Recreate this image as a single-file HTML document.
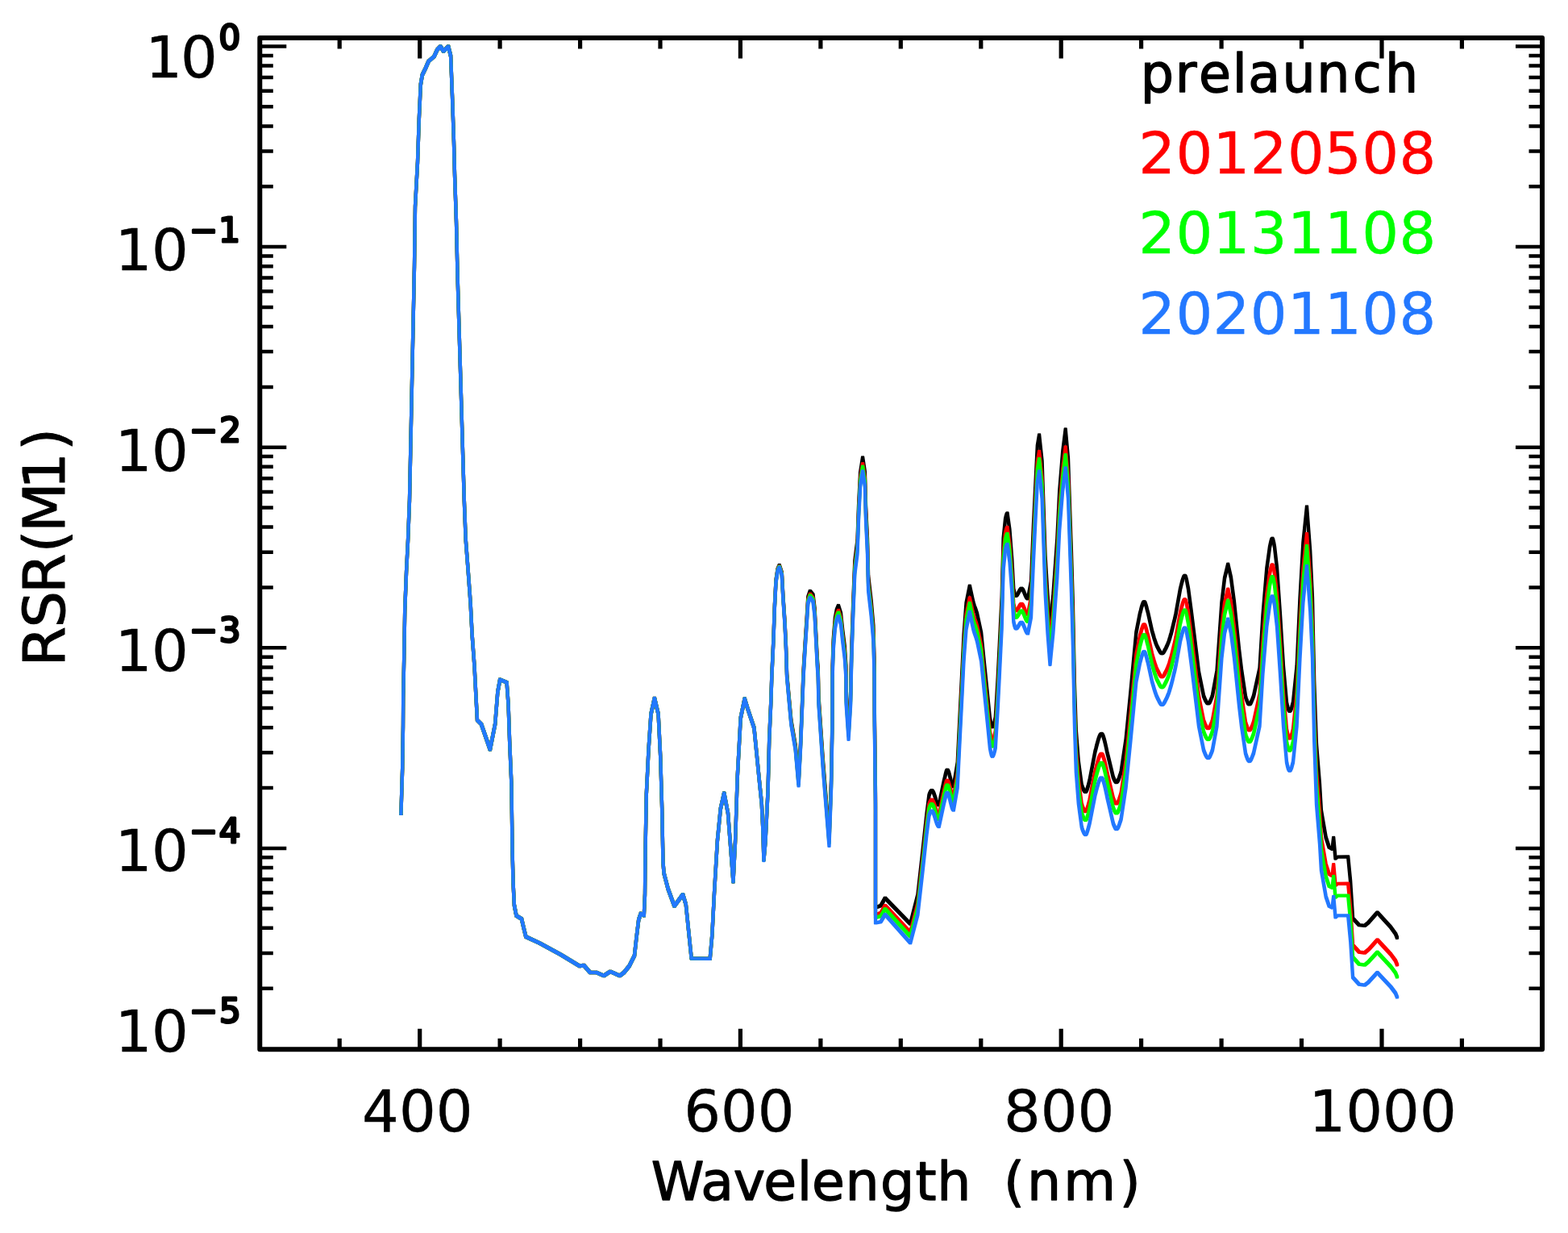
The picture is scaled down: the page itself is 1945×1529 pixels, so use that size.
<!DOCTYPE html>
<html lang="en"><head><meta charset="utf-8"><title>RSR(M1)</title>
<style>html,body{margin:0;padding:0;background:#fff}svg{display:block}text{font-family:"DejaVu Sans","Liberation Sans",sans-serif}</style></head><body>
<svg width="1945" height="1529" viewBox="0 0 1945 1529">
<rect width="1945" height="1529" fill="#fff"/>
<filter id="sq" filterUnits="userSpaceOnUse" x="480" y="40" width="1270" height="1220"><feMorphology operator="dilate" radius="1"/></filter>
<g fill="none" stroke-width="2.3" stroke-linejoin="round" stroke-linecap="butt" stroke-miterlimit="4">
<path stroke="#000000" filter="url(#sq)" d="M497.4 1010.0 L499.2 952.0 L500.0 900.0 L500.2 865.0 L501.2 816.0 L502.2 757.0 L504.1 708.0 L506.1 669.0 L508.0 620.0 L514.0 330.0 L515.0 256.0 L518.0 201.0 L519.8 148.0 L521.8 105.0 L523.8 93.0 L527.7 85.0 L531.6 76.0 L538.5 70.0 L542.4 61.6 L546.3 57.5 L550.2 63.5 L556.1 57.5 L559.1 69.4 L561.0 118.5 L563.0 177.0 L564.0 216.0 L566.0 275.0 L567.5 340.0 L575.8 620.0 L577.7 669.0 L580.7 708.0 L583.6 747.5 L585.6 787.0 L588.5 826.0 L590.5 865.0 L592.0 893.0 L597.0 898.0 L607.9 929.5 L614.2 897.7 L617.3 858.5 L620.2 842.7 L628.6 846.3 L630.6 874.0 L632.2 921.0 L634.4 972.0 L635.6 1057.0 L636.6 1096.0 L637.9 1122.4 L640.5 1135.4 L647.0 1139.4 L649.7 1151.0 L652.3 1161.6 L669.3 1169.5 L695.5 1183.8 L719.0 1198.0 L724.2 1197.0 L732.0 1206.0 L740.0 1206.0 L749.0 1210.0 L757.0 1204.8 L768.7 1210.0 L774.0 1206.0 L780.5 1198.0 L787.0 1185.0 L789.6 1161.6 L792.2 1140.7 L794.9 1132.8 L798.8 1135.4 L800.0 1109.0 L800.5 1057.0 L801.8 985.0 L804.5 930.0 L807.5 885.4 L811.9 865.8 L816.6 885.4 L819.2 937.7 L821.2 1003.5 L822.5 1070.0 L823.6 1083.0 L828.6 1102.0 L836.5 1123.6 L847.0 1109.2 L850.8 1121.5 L854.8 1160.5 L857.7 1188.5 L880.7 1188.9 L883.3 1160.0 L886.0 1107.8 L889.9 1042.4 L893.8 1003.0 L898.2 983.5 L903.0 1008.4 L905.6 1042.4 L909.5 1093.4 L912.1 1042.4 L914.7 963.9 L918.7 890.6 L923.7 866.5 L927.5 879.0 L935.4 902.4 L938.5 933.4 L941.6 964.8 L944.8 996.0 L946.3 1026.9 L947.4 1065.8 L949.5 1042.6 L952.6 979.4 L954.2 916.8 L956.3 869.6 L957.3 838.1 L959.4 793.0 L960.9 750.9 L962.5 719.7 L964.6 705.6 L966.7 700.9 L969.8 710.0 L971.4 739.5 L973.5 770.4 L975.0 801.8 L976.1 836.1 L981.4 893.8 L986.7 924.5 L990.6 968.4 L993.2 918.3 L995.8 852.5 L996.5 833.2 L998.6 798.5 L1000.7 766.6 L1002.3 740.4 L1004.9 733.0 L1008.5 737.5 L1010.6 754.9 L1012.2 786.0 L1013.8 817.2 L1014.8 830.6 L1015.4 862.8 L1020.7 940.6 L1028.5 1037.5 L1031.1 965.3 L1032.5 886.6 L1032.6 828.1 L1033.7 793.5 L1035.8 767.0 L1037.8 756.3 L1040.0 751.0 L1043.0 760.6 L1045.2 781.3 L1047.8 802.0 L1049.4 825.8 L1049.6 858.1 L1052.6 902.2 L1055.2 857.4 L1055.8 825.0 L1056.4 800.9 L1058.2 748.4 L1060.3 695.8 L1063.5 670.5 L1065.0 628.4 L1067.1 586.4 L1070.1 567.5 L1072.9 585.6 L1074.0 627.2 L1076.0 668.9 L1077.1 714.5 L1080.7 745.4 L1083.4 776.3 L1084.6 821.2 L1084.8 879.6 L1086.0 984.0 L1086.0 1125.4 L1092.6 1123.1 L1097.9 1113.6 L1129.2 1145.7 L1138.4 1109.8 L1144.5 1055.4 L1149.4 1010.0 L1152.4 986.3 L1153.2 983.9 L1154.1 982.0 L1154.9 980.7 L1155.7 980.1 L1156.5 980.5 L1157.3 981.6 L1158.2 983.3 L1159.0 985.5 L1159.8 987.9 L1160.6 990.4 L1161.4 992.9 L1162.2 995.0 L1163.1 996.8 L1163.9 997.9 L1164.7 998.2 L1171.0 968.1 L1172.0 963.9 L1173.0 959.6 L1173.9 956.2 L1174.9 954.7 L1175.8 955.3 L1176.7 957.2 L1177.5 959.9 L1178.4 963.2 L1179.3 966.7 L1180.2 970.0 L1181.0 972.7 L1181.9 974.6 L1182.8 975.2 L1187.7 946.0 L1190.6 886.7 L1193.6 827.5 L1195.5 787.9 L1198.5 748.3 L1202.8 726.6 L1207.3 746.9 L1208.1 749.7 L1208.9 752.1 L1209.8 754.4 L1210.6 756.7 L1211.4 759.1 L1212.2 761.9 L1217.1 784.7 L1221.0 823.4 L1225.0 862.0 L1227.9 890.8 L1228.9 895.9 L1229.9 899.9 L1230.9 901.4 L1231.9 900.5 L1232.8 898.1 L1233.8 894.6 L1234.8 890.0 L1237.7 840.7 L1239.7 801.4 L1241.6 761.9 L1242.6 742.2 L1244.6 668.0 L1247.0 644.3 L1247.8 640.5 L1248.7 637.7 L1249.5 636.5 L1252.4 656.9 L1255.4 695.7 L1257.3 730.6 L1258.3 735.2 L1259.3 738.0 L1260.3 738.9 L1261.4 738.1 L1262.5 736.4 L1263.7 734.3 L1264.8 732.2 L1265.9 730.5 L1267.0 729.7 L1267.8 730.0 L1268.6 730.9 L1269.4 732.4 L1270.2 734.1 L1271.0 736.1 L1271.8 738.0 L1272.6 739.8 L1273.4 741.2 L1274.2 742.1 L1275.0 742.4 L1279.0 721.4 L1281.9 652.0 L1284.8 592.9 L1286.8 553.3 L1289.1 539.5 L1292.6 572.4 L1294.6 631.1 L1296.6 689.7 L1299.5 738.5 L1302.5 777.8 L1306.4 737.9 L1311.3 668.8 L1314.2 609.7 L1318.2 560.3 L1321.7 532.5 L1325.0 569.1 L1327.0 627.6 L1329.0 685.9 L1330.9 750.1 L1332.9 847.4 L1334.8 905.9 L1337.8 944.5 L1341.7 973.1 L1342.5 975.5 L1343.3 977.6 L1344.2 979.5 L1345.0 980.8 L1345.8 981.7 L1346.6 982.0 L1347.4 981.3 L1348.2 979.6 L1349.0 977.1 L1349.9 974.1 L1350.7 971.0 L1351.5 967.9 L1358.4 932.1 L1359.3 928.8 L1360.1 925.4 L1361.0 922.1 L1361.9 918.9 L1362.7 916.1 L1363.6 913.6 L1364.5 911.7 L1365.3 910.4 L1366.2 909.9 L1367.1 910.3 L1368.0 911.7 L1368.8 913.9 L1369.7 916.9 L1370.6 920.4 L1371.5 924.2 L1372.4 928.2 L1373.2 932.2 L1374.1 936.0 L1375.0 939.5 L1380.9 963.9 L1381.7 965.7 L1382.5 967.4 L1383.3 968.8 L1384.1 969.8 L1384.9 970.1 L1385.7 969.6 L1386.6 968.5 L1387.4 966.8 L1388.2 964.7 L1389.0 962.2 L1389.9 959.5 L1390.7 956.7 L1396.6 916.8 L1402.5 857.3 L1409.4 784.2 L1414.0 760.7 L1414.9 757.5 L1415.7 754.2 L1416.6 751.2 L1417.5 748.6 L1418.3 746.9 L1419.2 746.2 L1420.2 747.0 L1421.1 749.3 L1422.1 752.5 L1423.0 756.2 L1424.0 759.8 L1429.0 782.3 L1429.9 785.4 L1430.8 788.4 L1431.6 791.3 L1432.5 794.0 L1433.4 796.6 L1434.2 798.9 L1435.1 800.9 L1436.0 802.7 L1436.9 804.5 L1437.8 806.2 L1438.7 807.8 L1439.6 809.1 L1440.5 810.0 L1441.4 810.3 L1442.3 809.9 L1443.3 809.0 L1444.2 807.5 L1445.1 805.8 L1446.1 804.0 L1447.0 802.1 L1447.8 800.3 L1448.6 798.4 L1449.5 796.1 L1450.3 793.7 L1451.1 791.1 L1451.9 788.2 L1452.8 785.3 L1453.6 782.1 L1454.4 778.9 L1455.2 775.5 L1456.0 772.1 L1456.9 768.5 L1457.7 764.9 L1458.5 761.3 L1464.0 730.5 L1464.8 727.3 L1465.6 724.0 L1466.4 720.9 L1467.3 718.1 L1468.1 715.9 L1468.9 714.4 L1469.7 713.8 L1470.6 714.8 L1471.4 717.3 L1472.3 721.1 L1473.1 725.4 L1474.0 729.9 L1478.0 760.1 L1484.0 808.6 L1487.0 833.6 L1493.0 863.0 L1493.8 865.0 L1494.6 866.9 L1495.4 868.7 L1496.3 870.2 L1497.1 871.4 L1497.9 872.2 L1498.7 872.4 L1499.6 872.0 L1500.5 870.9 L1501.3 869.2 L1502.2 867.1 L1503.1 864.8 L1504.0 862.3 L1509.5 832.2 L1515.4 747.9 L1519.0 717.1 L1523.2 699.7 L1527.0 716.6 L1531.0 747.0 L1537.0 805.4 L1540.0 830.4 L1545.0 863.9 L1545.9 866.8 L1546.9 869.4 L1547.8 871.5 L1548.8 873.0 L1549.7 873.4 L1550.6 873.0 L1551.5 871.8 L1552.3 870.0 L1553.2 867.9 L1554.1 865.6 L1555.0 863.2 L1562.5 829.0 L1566.4 764.2 L1571.3 705.2 L1575.0 678.5 L1575.8 674.8 L1576.6 671.3 L1577.4 668.7 L1578.2 667.7 L1579.1 669.2 L1580.1 673.2 L1581.0 678.1 L1584.0 704.3 L1588.0 762.7 L1592.0 826.9 L1596.0 871.4 L1596.9 875.4 L1597.8 878.8 L1598.8 881.0 L1599.7 881.8 L1600.6 881.2 L1601.4 879.7 L1602.3 877.3 L1603.1 874.4 L1604.0 871.1 L1608.6 826.2 L1612.5 742.0 L1616.4 673.3 L1621.0 628.4 L1625.2 683.5 L1628.0 742.4 L1630.2 845.1 L1633.0 923.7 L1637.0 972.8 L1638.9 1005.3 L1644.7 1038.7 L1648.7 1050.6 L1652.6 1052.7 L1654.2 1039.0 L1656.5 1064.5 L1658.5 1062.7 L1672.2 1062.5 L1675.2 1093.7 L1678.1 1138.7 L1686.0 1147.2 L1692.8 1147.9 L1697.7 1143.8 L1708.5 1131.5 L1725.2 1149.8 L1731.0 1157.8 L1733.4 1163.8"/>
<path stroke="#ff0000" filter="url(#sq)" d="M497.4 1010.0 L499.2 952.0 L500.0 900.0 L500.2 865.0 L501.2 816.0 L502.2 757.0 L504.1 708.0 L506.1 669.0 L508.0 620.0 L514.0 330.0 L515.0 256.0 L518.0 201.0 L519.8 148.0 L521.8 105.0 L523.8 93.0 L527.7 85.0 L531.6 76.0 L538.5 70.0 L542.4 61.6 L546.3 57.5 L550.2 63.5 L556.1 57.5 L559.1 69.4 L561.0 118.5 L563.0 177.0 L564.0 216.0 L566.0 275.0 L567.5 340.0 L575.8 620.0 L577.7 669.0 L580.7 708.0 L583.6 747.5 L585.6 787.0 L588.5 826.0 L590.5 865.0 L592.0 893.0 L597.0 898.0 L607.9 929.5 L614.2 897.7 L617.3 858.5 L620.2 842.7 L628.6 846.3 L630.6 874.0 L632.2 921.0 L634.4 972.0 L635.6 1057.0 L636.6 1096.0 L637.9 1122.4 L640.5 1135.4 L647.0 1139.4 L649.7 1151.0 L652.3 1161.6 L669.3 1169.5 L695.5 1183.8 L719.0 1198.0 L724.2 1197.0 L732.0 1206.0 L740.0 1206.0 L749.0 1210.0 L757.0 1204.8 L768.7 1210.0 L774.0 1206.0 L780.5 1198.0 L787.0 1185.0 L789.6 1161.6 L792.2 1140.7 L794.9 1132.8 L798.8 1135.4 L800.0 1109.0 L800.5 1057.0 L801.8 985.0 L804.5 930.0 L807.5 885.4 L811.9 865.8 L816.6 885.4 L819.2 937.7 L821.2 1003.5 L822.5 1070.0 L823.6 1083.0 L828.6 1102.0 L836.5 1123.6 L847.0 1109.2 L850.8 1121.5 L854.8 1160.5 L857.7 1188.5 L880.7 1188.9 L883.3 1160.0 L886.0 1107.8 L889.9 1042.4 L893.8 1003.0 L898.2 983.5 L903.0 1008.4 L905.6 1042.4 L909.5 1093.4 L912.1 1042.4 L914.7 963.9 L918.7 890.6 L923.7 866.5 L927.5 879.0 L935.4 902.6 L938.5 933.7 L941.6 965.2 L944.8 996.4 L946.3 1027.4 L947.4 1066.3 L949.5 1043.3 L952.6 980.1 L954.2 917.6 L956.3 870.4 L957.3 839.0 L959.4 793.9 L960.9 751.8 L962.5 720.8 L964.6 706.7 L966.7 702.1 L969.8 711.3 L971.4 741.0 L973.5 772.1 L975.0 803.5 L976.1 837.9 L981.4 896.0 L986.7 926.9 L990.6 971.1 L993.2 921.1 L995.8 855.5 L996.5 836.3 L998.6 801.7 L1000.7 770.0 L1002.3 743.8 L1004.9 736.6 L1008.5 741.4 L1010.6 758.9 L1012.2 790.1 L1013.8 821.5 L1014.8 834.9 L1015.4 867.1 L1020.7 945.2 L1028.5 1042.7 L1031.1 970.6 L1032.5 892.0 L1032.6 833.5 L1033.7 799.0 L1035.8 772.6 L1037.8 762.1 L1040.0 756.9 L1043.0 766.7 L1045.2 787.6 L1047.8 808.4 L1049.4 832.3 L1049.6 864.6 L1052.6 908.8 L1055.2 864.2 L1055.8 831.8 L1056.4 807.8 L1058.2 755.4 L1060.3 702.9 L1063.5 677.8 L1065.0 635.8 L1067.1 593.8 L1070.1 575.1 L1072.9 593.4 L1074.0 635.1 L1076.0 676.9 L1077.1 722.6 L1080.7 753.7 L1083.4 784.8 L1084.6 829.7 L1084.8 888.2 L1086.0 992.6 L1086.0 1134.0 L1092.6 1132.2 L1097.9 1122.9 L1129.2 1156.4 L1138.4 1120.8 L1144.5 1066.6 L1149.4 1021.4 L1152.4 997.7 L1153.2 995.4 L1154.1 993.5 L1154.9 992.2 L1155.7 991.7 L1156.5 992.1 L1157.3 993.3 L1158.2 995.1 L1159.0 997.3 L1159.8 999.8 L1160.6 1002.4 L1161.4 1004.8 L1162.2 1007.1 L1163.1 1008.8 L1163.9 1010.0 L1164.7 1010.4 L1171.0 980.7 L1172.0 976.5 L1173.0 972.3 L1173.9 969.0 L1174.9 967.6 L1175.8 968.3 L1176.7 970.2 L1177.5 973.0 L1178.4 976.3 L1179.3 979.8 L1180.2 983.2 L1181.0 986.0 L1181.9 987.9 L1182.8 988.6 L1187.7 959.8 L1190.6 900.6 L1193.6 841.6 L1195.5 802.1 L1198.5 762.7 L1202.8 741.4 L1207.3 762.0 L1208.1 764.8 L1208.9 767.3 L1209.8 769.6 L1210.6 771.9 L1211.4 774.4 L1212.2 777.3 L1217.1 800.4 L1221.0 839.4 L1225.0 878.2 L1227.9 907.3 L1228.9 912.4 L1229.9 916.5 L1230.9 918.1 L1231.9 917.2 L1232.8 914.9 L1233.8 911.4 L1234.8 906.8 L1237.7 857.7 L1239.7 818.5 L1241.6 779.1 L1242.6 759.4 L1244.6 685.3 L1247.0 661.7 L1247.8 658.0 L1248.7 655.2 L1249.5 654.0 L1252.4 674.7 L1255.4 713.8 L1257.3 748.9 L1258.3 753.5 L1259.3 756.4 L1260.3 757.4 L1261.4 756.7 L1262.5 755.1 L1263.7 753.1 L1264.8 751.1 L1265.9 749.5 L1267.0 748.8 L1267.8 749.1 L1268.6 750.1 L1269.4 751.6 L1270.2 753.4 L1271.0 755.4 L1271.8 757.4 L1272.6 759.2 L1273.4 760.7 L1274.2 761.7 L1275.0 762.0 L1279.0 741.2 L1281.9 672.0 L1284.8 613.1 L1286.8 573.6 L1289.1 560.0 L1292.6 593.0 L1294.6 651.8 L1296.6 710.5 L1299.5 759.5 L1302.5 798.8 L1306.4 759.1 L1311.3 690.2 L1314.2 631.2 L1318.2 582.0 L1321.7 554.4 L1325.0 591.2 L1327.0 649.9 L1329.0 708.4 L1330.9 772.8 L1332.9 870.3 L1334.8 929.0 L1337.8 967.8 L1341.7 996.8 L1342.5 999.3 L1343.3 1001.5 L1344.2 1003.4 L1345.0 1004.9 L1345.8 1005.8 L1346.6 1006.1 L1347.4 1005.4 L1348.2 1003.8 L1349.0 1001.3 L1349.9 998.4 L1350.7 995.3 L1351.5 992.2 L1358.4 956.6 L1359.3 953.4 L1360.1 950.0 L1361.0 946.7 L1361.9 943.6 L1362.7 940.7 L1363.6 938.3 L1364.5 936.4 L1365.3 935.2 L1366.2 934.7 L1367.1 935.2 L1368.0 936.6 L1368.8 939.0 L1369.7 942.0 L1370.6 945.6 L1371.5 949.5 L1372.4 953.6 L1373.2 957.6 L1374.1 961.6 L1375.0 965.1 L1380.9 990.0 L1381.7 991.9 L1382.5 993.7 L1383.3 995.2 L1384.1 996.2 L1384.9 996.5 L1385.7 996.1 L1386.6 995.0 L1387.4 993.4 L1388.2 991.3 L1389.0 988.8 L1389.9 986.2 L1390.7 983.4 L1396.6 943.8 L1402.5 884.6 L1409.4 811.9 L1414.0 788.6 L1414.9 785.4 L1415.7 782.2 L1416.6 779.2 L1417.5 776.7 L1418.3 775.0 L1419.2 774.3 L1420.2 775.2 L1421.1 777.5 L1422.1 780.8 L1423.0 784.5 L1424.0 788.1 L1429.0 810.8 L1429.9 814.0 L1430.8 817.0 L1431.6 819.9 L1432.5 822.7 L1433.4 825.3 L1434.2 827.6 L1435.1 829.7 L1436.0 831.5 L1436.9 833.3 L1437.8 835.1 L1438.7 836.7 L1439.6 838.1 L1440.5 839.0 L1441.4 839.3 L1442.3 838.9 L1443.3 838.0 L1444.2 836.6 L1445.1 834.9 L1446.1 833.0 L1447.0 831.2 L1447.8 829.4 L1448.6 827.5 L1449.5 825.2 L1450.3 822.8 L1451.1 820.2 L1451.9 817.4 L1452.8 814.4 L1453.6 811.3 L1454.4 808.1 L1455.2 804.7 L1456.0 801.3 L1456.9 797.8 L1457.7 794.2 L1458.5 790.6 L1464.0 759.9 L1464.8 756.6 L1465.6 753.4 L1466.4 750.3 L1467.3 747.5 L1468.1 745.3 L1468.9 743.8 L1469.7 743.2 L1470.6 744.2 L1471.4 746.8 L1472.3 750.6 L1473.1 755.0 L1474.0 759.5 L1478.0 789.9 L1484.0 838.7 L1487.0 863.8 L1493.0 893.5 L1493.8 895.5 L1494.6 897.5 L1495.4 899.3 L1496.3 900.9 L1497.1 902.1 L1497.9 902.9 L1498.7 903.2 L1499.6 902.8 L1500.5 901.6 L1501.3 900.0 L1502.2 897.9 L1503.1 895.6 L1504.0 893.1 L1509.5 863.1 L1515.4 778.8 L1519.0 748.0 L1523.2 730.6 L1527.0 747.7 L1531.0 778.3 L1537.0 836.9 L1540.0 862.0 L1545.0 895.8 L1545.9 898.7 L1546.9 901.4 L1547.8 903.6 L1548.8 905.0 L1549.7 905.5 L1550.6 905.1 L1551.5 903.9 L1552.3 902.2 L1553.2 900.1 L1554.1 897.8 L1555.0 895.4 L1562.5 861.3 L1566.4 796.6 L1571.3 737.7 L1575.0 711.0 L1575.8 707.3 L1576.6 703.8 L1577.4 701.3 L1578.2 700.3 L1579.1 701.9 L1580.1 705.9 L1581.0 710.8 L1584.0 737.2 L1588.0 795.8 L1592.0 860.1 L1596.0 904.9 L1596.9 908.9 L1597.8 912.3 L1598.8 914.7 L1599.7 915.5 L1600.6 914.9 L1601.4 913.3 L1602.3 911.0 L1603.1 908.0 L1604.0 904.7 L1608.6 859.8 L1612.5 775.6 L1616.4 706.8 L1621.0 661.9 L1625.2 716.9 L1628.0 775.8 L1630.2 878.5 L1633.0 957.0 L1637.0 1006.1 L1638.9 1038.6 L1644.7 1072.0 L1648.7 1083.8 L1652.6 1085.9 L1654.2 1072.1 L1656.5 1097.6 L1658.5 1095.8 L1672.2 1095.7 L1675.2 1127.0 L1678.1 1172.0 L1686.0 1180.6 L1692.8 1181.5 L1697.7 1177.4 L1708.5 1165.4 L1725.2 1183.4 L1731.0 1191.3 L1733.4 1197.3"/>
<path stroke="#00ff00" filter="url(#sq)" d="M497.4 1010.0 L499.2 952.0 L500.0 900.0 L500.2 865.0 L501.2 816.0 L502.2 757.0 L504.1 708.0 L506.1 669.0 L508.0 620.0 L514.0 330.0 L515.0 256.0 L518.0 201.0 L519.8 148.0 L521.8 105.0 L523.8 93.0 L527.7 85.0 L531.6 76.0 L538.5 70.0 L542.4 61.6 L546.3 57.5 L550.2 63.5 L556.1 57.5 L559.1 69.4 L561.0 118.5 L563.0 177.0 L564.0 216.0 L566.0 275.0 L567.5 340.0 L575.8 620.0 L577.7 669.0 L580.7 708.0 L583.6 747.5 L585.6 787.0 L588.5 826.0 L590.5 865.0 L592.0 893.0 L597.0 898.0 L607.9 929.5 L614.2 897.7 L617.3 858.5 L620.2 842.7 L628.6 846.3 L630.6 874.0 L632.2 921.0 L634.4 972.0 L635.6 1057.0 L636.6 1096.0 L637.9 1122.4 L640.5 1135.4 L647.0 1139.4 L649.7 1151.0 L652.3 1161.6 L669.3 1169.5 L695.5 1183.8 L719.0 1198.0 L724.2 1197.0 L732.0 1206.0 L740.0 1206.0 L749.0 1210.0 L757.0 1204.8 L768.7 1210.0 L774.0 1206.0 L780.5 1198.0 L787.0 1185.0 L789.6 1161.6 L792.2 1140.7 L794.9 1132.8 L798.8 1135.4 L800.0 1109.0 L800.5 1057.0 L801.8 985.0 L804.5 930.0 L807.5 885.4 L811.9 865.8 L816.6 885.4 L819.2 937.7 L821.2 1003.5 L822.5 1070.0 L823.6 1083.0 L828.6 1102.0 L836.5 1123.6 L847.0 1109.2 L850.8 1121.5 L854.8 1160.5 L857.7 1188.5 L880.7 1188.9 L883.3 1160.0 L886.0 1107.8 L889.9 1042.4 L893.8 1003.0 L898.2 983.5 L903.0 1008.4 L905.6 1042.4 L909.5 1093.4 L912.1 1042.4 L914.7 963.9 L918.7 890.6 L923.7 866.5 L927.5 879.0 L935.4 902.7 L938.5 933.8 L941.6 965.3 L944.8 996.7 L946.3 1027.6 L947.4 1066.6 L949.5 1043.5 L952.6 980.5 L954.2 917.9 L956.3 870.8 L957.3 839.4 L959.4 794.3 L960.9 752.3 L962.5 721.2 L964.6 707.2 L966.7 702.6 L969.8 712.0 L971.4 741.7 L973.5 772.8 L975.0 804.3 L976.1 838.7 L981.4 896.9 L986.7 928.1 L990.6 972.4 L993.2 922.4 L995.8 856.9 L996.5 837.7 L998.6 803.2 L1000.7 771.5 L1002.3 745.4 L1004.9 738.3 L1008.5 743.1 L1010.6 760.7 L1012.2 791.9 L1013.8 823.4 L1014.8 836.8 L1015.4 869.1 L1020.7 947.3 L1028.5 1045.0 L1031.1 973.0 L1032.5 894.4 L1032.6 835.9 L1033.7 801.5 L1035.8 775.2 L1037.8 764.7 L1040.0 759.6 L1043.0 769.5 L1045.2 790.4 L1047.8 811.2 L1049.4 835.2 L1049.6 867.5 L1052.6 911.8 L1055.2 867.2 L1055.8 834.9 L1056.4 810.9 L1058.2 758.5 L1060.3 706.1 L1063.5 681.1 L1065.0 639.1 L1067.1 597.2 L1070.1 578.6 L1072.9 596.9 L1074.0 638.7 L1076.0 680.5 L1077.1 726.3 L1080.7 757.5 L1083.4 788.7 L1084.6 833.6 L1084.8 892.1 L1086.0 996.5 L1086.0 1137.9 L1092.6 1136.2 L1097.9 1127.1 L1129.2 1161.2 L1138.4 1125.8 L1144.5 1071.6 L1149.4 1026.5 L1152.4 1002.9 L1153.2 1000.6 L1154.1 998.7 L1154.9 997.4 L1155.7 996.9 L1156.5 997.4 L1157.3 998.6 L1158.2 1000.4 L1159.0 1002.6 L1159.8 1005.1 L1160.6 1007.7 L1161.4 1010.2 L1162.2 1012.5 L1163.1 1014.3 L1163.9 1015.5 L1164.7 1015.9 L1171.0 986.4 L1172.0 982.3 L1173.0 978.0 L1173.9 974.7 L1174.9 973.4 L1175.8 974.1 L1176.7 976.0 L1177.5 978.9 L1178.4 982.2 L1179.3 985.8 L1180.2 989.1 L1181.0 992.0 L1181.9 993.9 L1182.8 994.6 L1187.7 965.9 L1190.6 906.9 L1193.6 848.0 L1195.5 808.6 L1198.5 769.2 L1202.8 748.0 L1207.3 768.8 L1208.1 771.6 L1208.9 774.1 L1209.8 776.5 L1210.6 778.8 L1211.4 781.3 L1212.2 784.2 L1217.1 807.5 L1221.0 846.6 L1225.0 885.5 L1227.9 914.7 L1228.9 919.9 L1229.9 923.9 L1230.9 925.6 L1231.9 924.7 L1232.8 922.4 L1233.8 918.9 L1234.8 914.4 L1237.7 865.3 L1239.7 826.2 L1241.6 786.8 L1242.6 767.2 L1244.6 693.1 L1247.0 669.5 L1247.8 665.8 L1248.7 663.0 L1249.5 661.9 L1252.4 682.7 L1255.4 721.9 L1257.3 757.1 L1258.3 761.7 L1259.3 764.7 L1260.3 765.8 L1261.4 765.1 L1262.5 763.6 L1263.7 761.6 L1264.8 759.6 L1265.9 758.1 L1267.0 757.4 L1267.8 757.8 L1268.6 758.8 L1269.4 760.3 L1270.2 762.1 L1271.0 764.1 L1271.8 766.1 L1272.6 768.0 L1273.4 769.5 L1274.2 770.5 L1275.0 770.8 L1279.0 750.2 L1281.9 681.0 L1284.8 622.2 L1286.8 582.8 L1289.1 569.2 L1292.6 602.3 L1294.6 661.1 L1296.6 719.9 L1299.5 768.9 L1302.5 808.3 L1306.4 768.7 L1311.3 699.8 L1314.2 640.9 L1318.2 591.8 L1321.7 564.2 L1325.0 601.2 L1327.0 659.9 L1329.0 718.6 L1330.9 783.0 L1332.9 880.6 L1334.8 939.4 L1337.8 978.4 L1341.7 1007.5 L1342.5 1010.0 L1343.3 1012.3 L1344.2 1014.2 L1345.0 1015.7 L1345.8 1016.6 L1346.6 1017.0 L1347.4 1016.3 L1348.2 1014.7 L1349.0 1012.2 L1349.9 1009.3 L1350.7 1006.2 L1351.5 1003.1 L1358.4 967.7 L1359.3 964.4 L1360.1 961.1 L1361.0 957.8 L1361.9 954.7 L1362.7 951.9 L1363.6 949.4 L1364.5 947.6 L1365.3 946.3 L1366.2 945.9 L1367.1 946.4 L1368.0 947.9 L1368.8 950.3 L1369.7 953.4 L1370.6 956.9 L1371.5 960.9 L1372.4 965.0 L1373.2 969.1 L1374.1 973.0 L1375.0 976.7 L1380.9 1001.8 L1381.7 1003.7 L1382.5 1005.5 L1383.3 1007.0 L1384.1 1008.1 L1384.9 1008.4 L1385.7 1008.0 L1386.6 1007.0 L1387.4 1005.3 L1388.2 1003.2 L1389.0 1000.8 L1389.9 998.2 L1390.7 995.4 L1396.6 956.0 L1402.5 896.9 L1409.4 824.3 L1414.0 801.2 L1414.9 798.0 L1415.7 794.8 L1416.6 791.8 L1417.5 789.3 L1418.3 787.6 L1419.2 787.0 L1420.2 787.9 L1421.1 790.2 L1422.1 793.5 L1423.0 797.2 L1424.0 800.8 L1429.0 823.7 L1429.9 826.8 L1430.8 829.9 L1431.6 832.8 L1432.5 835.6 L1433.4 838.2 L1434.2 840.5 L1435.1 842.7 L1436.0 844.5 L1436.9 846.3 L1437.8 848.1 L1438.7 849.7 L1439.6 851.1 L1440.5 852.0 L1441.4 852.3 L1442.3 852.0 L1443.3 851.0 L1444.2 849.7 L1445.1 848.0 L1446.1 846.1 L1447.0 844.3 L1447.8 842.5 L1448.6 840.6 L1449.5 838.4 L1450.3 835.9 L1451.1 833.3 L1451.9 830.5 L1452.8 827.6 L1453.6 824.5 L1454.4 821.2 L1455.2 817.9 L1456.0 814.5 L1456.9 810.9 L1457.7 807.4 L1458.5 803.7 L1464.0 773.1 L1464.8 769.9 L1465.6 766.6 L1466.4 763.5 L1467.3 760.7 L1468.1 758.5 L1468.9 757.0 L1469.7 756.5 L1470.6 757.5 L1471.4 760.1 L1472.3 763.9 L1473.1 768.4 L1474.0 772.9 L1478.0 803.3 L1484.0 852.2 L1487.0 877.4 L1493.0 907.2 L1493.8 909.3 L1494.6 911.3 L1495.4 913.1 L1496.3 914.7 L1497.1 915.9 L1497.9 916.7 L1498.7 917.0 L1499.6 916.6 L1500.5 915.5 L1501.3 913.9 L1502.2 911.8 L1503.1 909.4 L1504.0 907.0 L1509.5 877.0 L1515.4 792.7 L1519.0 761.9 L1523.2 744.6 L1527.0 761.7 L1531.0 792.4 L1537.0 851.1 L1540.0 876.3 L1545.0 910.2 L1545.9 913.1 L1546.9 915.8 L1547.8 918.0 L1548.8 919.5 L1549.7 920.0 L1550.6 919.6 L1551.5 918.4 L1552.3 916.7 L1553.2 914.6 L1554.1 912.3 L1555.0 909.9 L1562.5 875.8 L1566.4 811.2 L1571.3 752.3 L1575.0 725.7 L1575.8 722.0 L1576.6 718.5 L1577.4 716.0 L1578.2 714.9 L1579.1 716.6 L1580.1 720.6 L1581.0 725.5 L1584.0 752.0 L1588.0 810.7 L1592.0 875.1 L1596.0 920.0 L1596.9 924.0 L1597.8 927.4 L1598.8 929.8 L1599.7 930.7 L1600.6 930.1 L1601.4 928.5 L1602.3 926.1 L1603.1 923.2 L1604.0 919.9 L1608.6 874.9 L1612.5 790.7 L1616.4 721.9 L1621.0 677.0 L1625.2 732.0 L1628.0 790.8 L1630.2 893.5 L1633.0 972.1 L1637.0 1021.1 L1638.9 1053.6 L1644.7 1087.0 L1648.7 1098.8 L1652.6 1100.8 L1654.2 1087.0 L1656.5 1112.6 L1658.5 1110.7 L1672.2 1110.6 L1675.2 1142.0 L1678.1 1187.0 L1686.0 1195.7 L1692.8 1196.6 L1697.7 1192.6 L1708.5 1180.7 L1725.2 1198.6 L1731.0 1206.4 L1733.4 1212.4"/>
<path stroke="#2378ff" filter="url(#sq)" d="M497.4 1010.0 L499.2 952.0 L500.0 900.0 L500.2 865.0 L501.2 816.0 L502.2 757.0 L504.1 708.0 L506.1 669.0 L508.0 620.0 L514.0 330.0 L515.0 256.0 L518.0 201.0 L519.8 148.0 L521.8 105.0 L523.8 93.0 L527.7 85.0 L531.6 76.0 L538.5 70.0 L542.4 61.6 L546.3 57.5 L550.2 63.5 L556.1 57.5 L559.1 69.4 L561.0 118.5 L563.0 177.0 L564.0 216.0 L566.0 275.0 L567.5 340.0 L575.8 620.0 L577.7 669.0 L580.7 708.0 L583.6 747.5 L585.6 787.0 L588.5 826.0 L590.5 865.0 L592.0 893.0 L597.0 898.0 L607.9 929.5 L614.2 897.7 L617.3 858.5 L620.2 842.7 L628.6 846.3 L630.6 874.0 L632.2 921.0 L634.4 972.0 L635.6 1057.0 L636.6 1096.0 L637.9 1122.4 L640.5 1135.4 L647.0 1139.4 L649.7 1151.0 L652.3 1161.6 L669.3 1169.5 L695.5 1183.8 L719.0 1198.0 L724.2 1197.0 L732.0 1206.0 L740.0 1206.0 L749.0 1210.0 L757.0 1204.8 L768.7 1210.0 L774.0 1206.0 L780.5 1198.0 L787.0 1185.0 L789.6 1161.6 L792.2 1140.7 L794.9 1132.8 L798.8 1135.4 L800.0 1109.0 L800.5 1057.0 L801.8 985.0 L804.5 930.0 L807.5 885.4 L811.9 865.8 L816.6 885.4 L819.2 937.7 L821.2 1003.5 L822.5 1070.0 L823.6 1083.0 L828.6 1102.0 L836.5 1123.6 L847.0 1109.2 L850.8 1121.5 L854.8 1160.5 L857.7 1188.5 L880.7 1188.9 L883.3 1160.0 L886.0 1107.8 L889.9 1042.4 L893.8 1003.0 L898.2 983.5 L903.0 1008.4 L905.6 1042.4 L909.5 1093.4 L912.1 1042.4 L914.7 963.9 L918.7 890.6 L923.7 866.5 L927.5 879.0 L935.4 902.8 L938.5 934.0 L941.6 965.6 L944.8 997.0 L946.3 1028.0 L947.4 1067.0 L949.5 1044.0 L952.6 981.0 L954.2 918.5 L956.3 871.4 L957.3 840.0 L959.4 795.0 L960.9 753.0 L962.5 722.0 L964.6 708.0 L966.7 703.5 L969.8 713.0 L971.4 742.8 L973.5 774.0 L975.0 805.6 L976.1 840.0 L981.4 898.5 L986.7 929.9 L990.6 974.4 L993.2 924.6 L995.8 859.2 L996.5 840.0 L998.6 805.6 L1000.7 774.0 L1002.3 748.0 L1004.9 741.0 L1008.5 746.0 L1010.6 763.7 L1012.2 795.0 L1013.8 826.5 L1014.8 840.0 L1015.4 872.3 L1020.7 950.8 L1028.5 1048.9 L1031.1 977.0 L1032.5 898.5 L1032.6 840.0 L1033.7 805.6 L1035.8 779.4 L1037.8 769.0 L1040.0 764.0 L1043.0 774.0 L1045.2 795.0 L1047.8 816.0 L1049.4 840.0 L1049.6 872.3 L1052.6 916.8 L1055.2 872.3 L1055.8 840.0 L1056.4 816.0 L1058.2 763.7 L1060.3 711.4 L1063.5 686.5 L1065.0 644.6 L1067.1 602.8 L1070.1 584.3 L1072.9 602.8 L1074.0 644.6 L1076.0 686.5 L1077.1 732.3 L1080.7 763.7 L1083.4 795.0 L1084.6 840.0 L1084.8 898.5 L1086.0 1003.0 L1086.0 1144.4 L1092.6 1143.0 L1097.9 1134.0 L1129.2 1169.2 L1138.4 1134.0 L1144.5 1080.0 L1149.4 1035.0 L1152.4 1011.5 L1153.2 1009.2 L1154.1 1007.3 L1154.9 1006.1 L1155.7 1005.6 L1156.5 1006.1 L1157.3 1007.3 L1158.2 1009.1 L1159.0 1011.4 L1159.8 1014.0 L1160.6 1016.6 L1161.4 1019.2 L1162.2 1021.5 L1163.1 1023.3 L1163.9 1024.5 L1164.7 1025.0 L1171.0 995.8 L1172.0 991.7 L1173.0 987.6 L1173.9 984.3 L1174.9 983.0 L1175.8 983.7 L1176.7 985.7 L1177.5 988.6 L1178.4 992.0 L1179.3 995.6 L1180.2 999.0 L1181.0 1001.9 L1181.9 1003.9 L1182.8 1004.6 L1187.7 976.2 L1190.6 917.3 L1193.6 858.5 L1195.5 819.2 L1198.5 780.0 L1202.8 759.0 L1207.3 780.0 L1208.1 782.9 L1208.9 785.4 L1209.8 787.8 L1210.6 790.2 L1211.4 792.8 L1212.2 795.7 L1217.1 819.2 L1221.0 858.5 L1225.0 897.7 L1227.9 927.0 L1228.9 932.2 L1229.9 936.3 L1230.9 938.0 L1231.9 937.2 L1232.8 934.9 L1233.8 931.5 L1234.8 927.0 L1237.7 878.0 L1239.7 838.9 L1241.6 799.6 L1242.6 780.0 L1244.6 706.0 L1247.0 682.5 L1247.8 678.8 L1248.7 676.1 L1249.5 675.0 L1252.4 696.0 L1255.4 735.4 L1257.3 770.7 L1258.3 775.4 L1259.3 778.5 L1260.3 779.6 L1261.4 779.0 L1262.5 777.6 L1263.7 775.7 L1264.8 773.7 L1265.9 772.3 L1267.0 771.7 L1267.8 772.1 L1268.6 773.1 L1269.4 774.7 L1270.2 776.6 L1271.0 778.6 L1271.8 780.6 L1272.6 782.5 L1273.4 784.1 L1274.2 785.1 L1275.0 785.5 L1279.0 765.0 L1281.9 696.0 L1284.8 637.3 L1286.8 598.0 L1289.1 584.5 L1292.6 617.7 L1294.6 676.6 L1296.6 735.4 L1299.5 784.5 L1302.5 824.0 L1306.4 784.5 L1311.3 715.8 L1314.2 657.0 L1318.2 608.0 L1321.7 580.5 L1325.0 617.7 L1327.0 676.6 L1329.0 735.4 L1330.9 800.0 L1332.9 897.7 L1334.8 956.6 L1337.8 995.8 L1341.7 1025.2 L1342.5 1027.8 L1343.3 1030.1 L1344.2 1032.1 L1345.0 1033.6 L1345.8 1034.6 L1346.6 1035.0 L1347.4 1034.4 L1348.2 1032.7 L1349.0 1030.3 L1349.9 1027.4 L1350.7 1024.3 L1351.5 1021.3 L1358.4 986.0 L1359.3 982.8 L1360.1 979.5 L1361.0 976.2 L1361.9 973.1 L1362.7 970.3 L1363.6 967.9 L1364.5 966.0 L1365.3 964.8 L1366.2 964.4 L1367.1 965.0 L1368.0 966.6 L1368.8 969.0 L1369.7 972.1 L1370.6 975.8 L1371.5 979.8 L1372.4 983.9 L1373.2 988.1 L1374.1 992.1 L1375.0 995.8 L1380.9 1021.3 L1381.7 1023.2 L1382.5 1025.1 L1383.3 1026.7 L1384.1 1027.8 L1384.9 1028.2 L1385.7 1027.8 L1386.6 1026.8 L1387.4 1025.2 L1388.2 1023.1 L1389.0 1020.7 L1389.9 1018.1 L1390.7 1015.4 L1396.6 976.2 L1402.5 917.3 L1409.4 845.0 L1414.0 822.0 L1414.9 818.8 L1415.7 815.7 L1416.6 812.7 L1417.5 810.3 L1418.3 808.6 L1419.2 808.0 L1420.2 808.9 L1421.1 811.3 L1422.1 814.6 L1423.0 818.4 L1424.0 822.0 L1429.0 845.0 L1429.9 848.2 L1430.8 851.3 L1431.6 854.2 L1432.5 857.0 L1433.4 859.6 L1434.2 862.0 L1435.1 864.1 L1436.0 866.0 L1436.9 867.8 L1437.8 869.6 L1438.7 871.3 L1439.6 872.7 L1440.5 873.7 L1441.4 874.0 L1442.3 873.7 L1443.3 872.7 L1444.2 871.4 L1445.1 869.7 L1446.1 867.8 L1447.0 866.0 L1447.8 864.3 L1448.6 862.3 L1449.5 860.1 L1450.3 857.7 L1451.1 855.1 L1451.9 852.3 L1452.8 849.4 L1453.6 846.3 L1454.4 843.1 L1455.2 839.7 L1456.0 836.3 L1456.9 832.8 L1457.7 829.2 L1458.5 825.6 L1464.0 795.0 L1464.8 791.8 L1465.6 788.6 L1466.4 785.5 L1467.3 782.7 L1468.1 780.5 L1468.9 779.0 L1469.7 778.5 L1470.6 779.5 L1471.4 782.2 L1472.3 786.0 L1473.1 790.5 L1474.0 795.0 L1478.0 825.6 L1484.0 874.7 L1487.0 900.0 L1493.0 930.0 L1493.8 932.1 L1494.6 934.1 L1495.4 936.0 L1496.3 937.6 L1497.1 938.9 L1497.9 939.7 L1498.7 940.0 L1499.6 939.6 L1500.5 938.5 L1501.3 936.9 L1502.2 934.8 L1503.1 932.5 L1504.0 930.0 L1509.5 900.0 L1515.4 815.8 L1519.0 785.0 L1523.2 767.7 L1527.0 785.0 L1531.0 815.8 L1537.0 874.7 L1540.0 900.0 L1545.0 934.0 L1545.9 937.0 L1546.9 939.7 L1547.8 941.9 L1548.8 943.4 L1549.7 944.0 L1550.6 943.6 L1551.5 942.4 L1552.3 940.7 L1553.2 938.6 L1554.1 936.3 L1555.0 934.0 L1562.5 900.0 L1566.4 835.4 L1571.3 776.6 L1575.0 750.0 L1575.8 746.3 L1576.6 742.8 L1577.4 740.3 L1578.2 739.3 L1579.1 741.0 L1580.1 745.0 L1581.0 750.0 L1584.0 776.6 L1588.0 835.4 L1592.0 900.0 L1596.0 945.0 L1596.9 949.1 L1597.8 952.5 L1598.8 954.9 L1599.7 955.8 L1600.6 955.2 L1601.4 953.6 L1602.3 951.3 L1603.1 948.3 L1604.0 945.0 L1608.6 900.0 L1612.5 815.8 L1616.4 747.0 L1621.0 702.0 L1625.2 757.0 L1628.0 815.8 L1630.2 918.5 L1633.0 997.0 L1637.0 1046.0 L1638.9 1078.5 L1644.7 1111.8 L1648.7 1123.6 L1652.6 1125.6 L1654.2 1111.8 L1656.5 1137.3 L1658.5 1135.4 L1672.2 1135.4 L1675.2 1166.8 L1678.1 1211.9 L1686.0 1220.7 L1692.8 1221.7 L1697.7 1217.8 L1708.5 1206.0 L1725.2 1223.7 L1731.0 1231.5 L1733.4 1237.4"/>
</g>
<path d="M322.3 57.5 H355.3 M1913.0 57.5 H1880.0 M322.3 306.1 H355.3 M1913.0 306.1 H1880.0 M322.3 231.3 H338.8 M1913.0 231.3 H1896.5 M322.3 187.5 H338.8 M1913.0 187.5 H1896.5 M322.3 156.4 H338.8 M1913.0 156.4 H1896.5 M322.3 132.3 H338.8 M1913.0 132.3 H1896.5 M322.3 112.7 H338.8 M1913.0 112.7 H1896.5 M322.3 96.0 H338.8 M1913.0 96.0 H1896.5 M322.3 81.6 H338.8 M1913.0 81.6 H1896.5 M322.3 68.9 H338.8 M1913.0 68.9 H1896.5 M322.3 554.7 H355.3 M1913.0 554.7 H1880.0 M322.3 479.9 H338.8 M1913.0 479.9 H1896.5 M322.3 436.1 H338.8 M1913.0 436.1 H1896.5 M322.3 405.0 H338.8 M1913.0 405.0 H1896.5 M322.3 380.9 H338.8 M1913.0 380.9 H1896.5 M322.3 361.3 H338.8 M1913.0 361.3 H1896.5 M322.3 344.6 H338.8 M1913.0 344.6 H1896.5 M322.3 330.2 H338.8 M1913.0 330.2 H1896.5 M322.3 317.5 H338.8 M1913.0 317.5 H1896.5 M322.3 803.3 H355.3 M1913.0 803.3 H1880.0 M322.3 728.5 H338.8 M1913.0 728.5 H1896.5 M322.3 684.7 H338.8 M1913.0 684.7 H1896.5 M322.3 653.6 H338.8 M1913.0 653.6 H1896.5 M322.3 629.5 H338.8 M1913.0 629.5 H1896.5 M322.3 609.9 H338.8 M1913.0 609.9 H1896.5 M322.3 593.2 H338.8 M1913.0 593.2 H1896.5 M322.3 578.8 H338.8 M1913.0 578.8 H1896.5 M322.3 566.1 H338.8 M1913.0 566.1 H1896.5 M322.3 1051.9 H355.3 M1913.0 1051.9 H1880.0 M322.3 977.1 H338.8 M1913.0 977.1 H1896.5 M322.3 933.3 H338.8 M1913.0 933.3 H1896.5 M322.3 902.2 H338.8 M1913.0 902.2 H1896.5 M322.3 878.1 H338.8 M1913.0 878.1 H1896.5 M322.3 858.5 H338.8 M1913.0 858.5 H1896.5 M322.3 841.8 H338.8 M1913.0 841.8 H1896.5 M322.3 827.4 H338.8 M1913.0 827.4 H1896.5 M322.3 814.7 H338.8 M1913.0 814.7 H1896.5 M322.3 1225.7 H338.8 M1913.0 1225.7 H1896.5 M322.3 1181.9 H338.8 M1913.0 1181.9 H1896.5 M322.3 1150.8 H338.8 M1913.0 1150.8 H1896.5 M322.3 1126.7 H338.8 M1913.0 1126.7 H1896.5 M322.3 1107.1 H338.8 M1913.0 1107.1 H1896.5 M322.3 1090.4 H338.8 M1913.0 1090.4 H1896.5 M322.3 1076.0 H338.8 M1913.0 1076.0 H1896.5 M322.3 1063.3 H338.8 M1913.0 1063.3 H1896.5" fill="none" stroke="#000" stroke-width="4.5"/>
<path d="M421.2 47.0 V60.5 M421.2 1301.3 V1287.8 M520.7 47.0 V72.5 M520.7 1301.3 V1275.8 M620.1 47.0 V60.5 M620.1 1301.3 V1287.8 M719.6 47.0 V60.5 M719.6 1301.3 V1287.8 M819.0 47.0 V60.5 M819.0 1301.3 V1287.8 M918.4 47.0 V72.5 M918.4 1301.3 V1275.8 M1017.9 47.0 V60.5 M1017.9 1301.3 V1287.8 M1117.3 47.0 V60.5 M1117.3 1301.3 V1287.8 M1216.8 47.0 V60.5 M1216.8 1301.3 V1287.8 M1316.2 47.0 V72.5 M1316.2 1301.3 V1275.8 M1415.6 47.0 V60.5 M1415.6 1301.3 V1287.8 M1515.1 47.0 V60.5 M1515.1 1301.3 V1287.8 M1614.5 47.0 V60.5 M1614.5 1301.3 V1287.8 M1714.0 47.0 V72.5 M1714.0 1301.3 V1275.8 M1813.4 47.0 V60.5 M1813.4 1301.3 V1287.8" fill="none" stroke="#000" stroke-width="5.2"/>
<rect x="322.3" y="47.0" width="1590.7" height="1254.3" fill="none" stroke="#000" stroke-width="6.0" stroke-linejoin="round"/>
<text x="449.1" y="1403.3" font-size="72.0" text-anchor="start" fill="#000" stroke="#000" stroke-width="0.4" stroke-linejoin="round">400</text>
<text x="848.2" y="1403.3" font-size="72.0" text-anchor="start" fill="#000" stroke="#000" stroke-width="0.4" stroke-linejoin="round">600</text>
<text x="1245.0" y="1403.3" font-size="72.0" text-anchor="start" fill="#000" stroke="#000" stroke-width="0.4" stroke-linejoin="round">800</text>
<text x="1623.5" y="1403.3" font-size="72.0" text-anchor="start" fill="#000" stroke="#000" stroke-width="0.4" stroke-linejoin="round">1000</text>
<text x="807.8 869.3 909.7 947.3 988.7 1007.1 1048.4 1092.0 1135.4 1162.2 1202.1 1245.1 1274.1 1319.2 1388.8" y="1488.0" font-size="66.5" fill="#000" stroke="#000" stroke-width="1.3" stroke-linejoin="round">Wavelength (nm)</text>
<text x="180.2 224.1" y="96.3" font-size="72.0" fill="#000" stroke="#000" stroke-width="0.4" stroke-linejoin="round">10<tspan x="271.4" y="61.1" font-size="42.0" stroke-width="3.0">0</tspan></text>
<text x="142.7 188.1" y="335.3" font-size="72.0" fill="#000" stroke="#000" stroke-width="0.4" stroke-linejoin="round">10<tspan x="234.8 271.3" y="299.6" font-size="42.0" stroke-width="3.0">−1</tspan></text>
<text x="142.7 188.1" y="583.5" font-size="72.0" fill="#000" stroke="#000" stroke-width="0.4" stroke-linejoin="round">10<tspan x="234.8 272.2" y="547.8" font-size="42.0" stroke-width="3.0">−2</tspan></text>
<text x="142.7 188.1" y="831.8" font-size="72.0" fill="#000" stroke="#000" stroke-width="0.4" stroke-linejoin="round">10<tspan x="234.8 271.7" y="796.1" font-size="42.0" stroke-width="3.0">−3</tspan></text>
<text x="142.7 188.1" y="1080.3" font-size="72.0" fill="#000" stroke="#000" stroke-width="0.4" stroke-linejoin="round">10<tspan x="234.8 271.8" y="1044.6" font-size="42.0" stroke-width="3.0">−4</tspan></text>
<text x="142.7 188.1" y="1303.5" font-size="72.0" fill="#000" stroke="#000" stroke-width="0.4" stroke-linejoin="round">10<tspan x="234.8 271.9" y="1267.8" font-size="42.0" stroke-width="3.0">−5</tspan></text>
<text transform="translate(79.9,0) rotate(-90)" x="-826.6 -778.6 -735.9 -685.5 -660.1 -606.8 -558.8" y="0" font-size="71.5" fill="#000" stroke="#000" stroke-width="1.0" stroke-linejoin="round">RSR(M1)</text>
<text x="1414.7 1457.7 1486.9 1528.8 1548.2 1590.4 1633.2 1678.0 1718.1" y="113.8" font-size="65.0" fill="#000" stroke="#000" stroke-width="1.4" stroke-linejoin="round">prelaunch</text>
<text x="1412.3" y="214.8" font-size="72.0" text-anchor="start" fill="#ff0000" letter-spacing="0.35" stroke="#ff0000" stroke-width="0.4" stroke-linejoin="round">20120508</text>
<text x="1412.3" y="314.0" font-size="72.0" text-anchor="start" fill="#00ff00" letter-spacing="0.35" stroke="#00ff00" stroke-width="0.4" stroke-linejoin="round">20131108</text>
<text x="1412.3" y="414.0" font-size="72.0" text-anchor="start" fill="#2378ff" letter-spacing="0.35" stroke="#2378ff" stroke-width="0.4" stroke-linejoin="round">20201108</text>
</svg></body></html>
